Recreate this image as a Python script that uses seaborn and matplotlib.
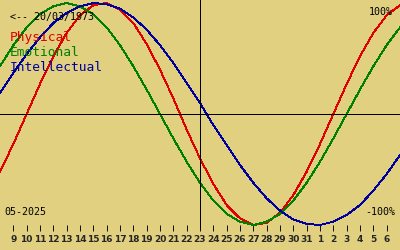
import matplotlib
matplotlib.use("Agg")
import matplotlib.pyplot as plt
import seaborn as sns
import pandas as pd

# Day offsets relative to 23 May 2025 (centre line)
day_offsets = list(range(-15, 16))
day_labels = ["8", "9", "10", "11", "12", "13", "14", "15", "16", "17", "18", "19", "20", "21", "22",
              "23", "24", "25", "26", "27", "28", "29", "30", "31", "1", "2", "3", "4", "5", "6", "7"]

physical = [-0.52, -0.27, 0.00, 0.27, 0.52, 0.73, 0.89, 0.98, 1.00, 0.94, 0.82, 0.63, 0.40, 0.14,
            -0.14, -0.40, -0.63, -0.82, -0.94, -1.00, -0.98, -0.89, -0.73, -0.52, -0.27, 0.00,
            0.27, 0.52, 0.73, 0.89, 0.98]
emotional = [0.43, 0.62, 0.78, 0.90, 0.97, 1.00, 0.97, 0.90, 0.78, 0.62, 0.43, 0.22, 0.00, -0.22,
             -0.43, -0.62, -0.78, -0.90, -0.97, -1.00, -0.97, -0.90, -0.78, -0.62, -0.43, -0.22,
             0.00, 0.22, 0.43, 0.62, 0.78]
intellectual = [0.19, 0.37, 0.54, 0.69, 0.82, 0.91, 0.97, 1.00, 0.99, 0.95, 0.87, 0.76, 0.62, 0.46,
                0.28, 0.10, -0.10, -0.28, -0.46, -0.62, -0.76, -0.87, -0.95, -0.99, -1.00, -0.97,
                -0.91, -0.82, -0.69, -0.54, -0.37]

series_names = ["Physical", "Emotional", "Intellectual"]
series_colors = ["#E00000", "#008000", "#0000A0"]
birth_text = "<-- 20/03/1973"
month_text = "05-2025"

bg = "#E0D080"
mono = "DejaVu Sans Mono"

rows = []
for name, vals in zip(series_names, [physical, emotional, intellectual]):
    for d, v in zip(day_offsets, vals):
        rows.append({"day": d, "value": v, "series": name})
df = pd.DataFrame(rows)

sns.set_theme(style="white")
plt.rcParams["font.family"] = [mono, "DejaVu Sans"]

fig = plt.figure(figsize=(4, 2.5), dpi=100)
fig.patch.set_facecolor(bg)
ax = fig.add_axes([0, 0, 1, 1])
ax.set_facecolor(bg)

sns.lineplot(data=df, x="day", y="value", hue="series", hue_order=series_names,
             palette=series_colors, linewidth=0.65, legend=False, ax=ax,
             estimator=None, sort=True, antialiased=False)

ax.axhline(0, color="black", linewidth=0.65, antialiased=False)
ax.axvline(0, ymin=(-1.03 + 1.225) / (1.027 + 1.225), ymax=1, color="black", linewidth=0.65,
           antialiased=False)

ax.set_xlim(-15, 15)
ax.set_ylim(-1.225, 1.027)

for s in ax.spines.values():
    s.set_visible(False)
ax.spines["bottom"].set_position(("data", -1.0))
ax.set_xticks(day_offsets[1:-1])
ax.set_xticklabels(day_labels[1:-1], fontsize=6.5, fontweight="bold",
                   family=["Liberation Sans Narrow", "DejaVu Sans"])
ax.tick_params(axis="x", direction="out", length=4.5, width=0.65, pad=2.5, color="black",
               bottom=True)
ax.set_yticks([])
ax.set_xlabel("")
ax.set_ylabel("")

ax.text(0.025, 0.932, birth_text, transform=ax.transAxes, fontsize=7.2, color="black",
        ha="left", va="center")
for i, (name, col) in enumerate(zip(series_names, series_colors)):
    ax.text(0.025, 0.85 - i * 0.06, name, transform=ax.transAxes, fontsize=9.3, color=col,
            ha="left", va="center")
ax.text(0.983, 0.952, "100%", transform=ax.transAxes, fontsize=7.2, color="black",
        ha="right", va="center")
ax.text(0.988, 0.152, "-100%", transform=ax.transAxes, fontsize=7.2, color="black",
        ha="right", va="center")
ax.text(0.01, 0.152, month_text, transform=ax.transAxes, fontsize=7.2, color="black",
        ha="left", va="center")

fig.savefig("out.png", dpi=100, facecolor=bg)
